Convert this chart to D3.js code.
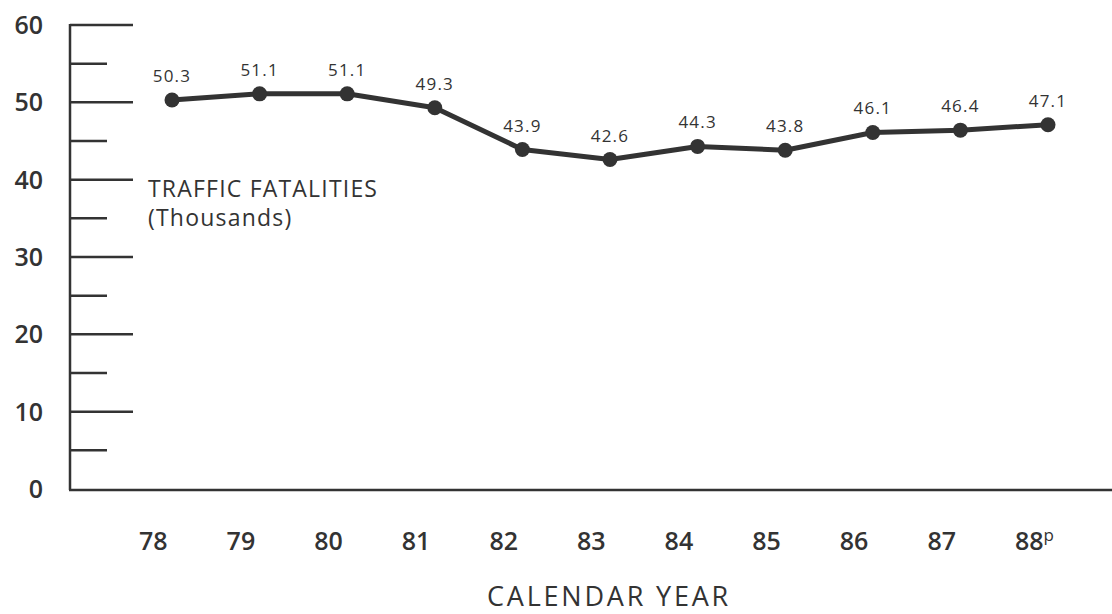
<!DOCTYPE html>
<html>
<head>
<meta charset="utf-8">
<script src="https://cdn.jsdelivr.net/npm/d3@7/dist/d3.min.js"></script>
<style>
  html, body { margin: 0; padding: 0; background: #fff; }
  svg { display: block; font-family: "Open Sans", "Noto Sans", sans-serif; }
</style>
</head>
<body>
<script>
// ---- data ----
const years = [78, 79, 80, 81, 82, 83, 84, 85, 86, 87, 88];
const yearLabels = ["78", "79", "80", "81", "82", "83", "84", "85", "86", "87", "88"];
const fatalities = [50.3, 51.1, 51.1, 49.3, 43.9, 42.6, 44.3, 43.8, 46.1, 46.4, 47.1];
const valueLabels = ["50.3", "51.1", "51.1", "49.3", "43.9", "42.6", "44.3", "43.8", "46.1", "46.4", "47.1"];
const majorTicks = [0, 10, 20, 30, 40, 50, 60];
const minorTicks = [5, 15, 25, 35, 45, 55];
const yTickLabels = ["0", "10", "20", "30", "40", "50", "60"];
const seriesTitle = ["TRAFFIC FATALITIES", "(Thousands)"];
const xTitle = "CALENDAR YEAR";
const provisionalMark = "p";

// ---- layout ----
const W = 1112, H = 614;
const ink = "#333";
const axisX = 70;

const x = d3.scaleLinear().domain([78, 88]).range([172, 1048]);
const y = d3.scaleLinear().domain([0, 60]).range([489, 25]);

const svg = d3.select("body").append("svg").attr("width", W).attr("height", H);

// y axis line
svg.append("line")
  .attr("x1", axisX).attr("x2", axisX)
  .attr("y1", y(60) - 1).attr("y2", y(0) + 1)
  .attr("stroke", ink).attr("stroke-width", 2.5);

// x axis baseline
svg.append("line")
  .attr("x1", axisX - 1).attr("x2", W)
  .attr("y1", y(0) + 1).attr("y2", y(0) + 1)
  .attr("stroke", ink).attr("stroke-width", 2.5);

// major ticks
svg.selectAll("line.major").data(majorTicks.filter(d => d !== 0)).join("line")
  .attr("class", "major")
  .attr("x1", axisX).attr("x2", axisX + 63)
  .attr("y1", d => y(d)).attr("y2", d => y(d))
  .attr("stroke", ink).attr("stroke-width", 2.5);

// minor ticks
svg.selectAll("line.minor").data(minorTicks).join("line")
  .attr("class", "minor")
  .attr("x1", axisX).attr("x2", axisX + 37)
  .attr("y1", d => y(d)).attr("y2", d => y(d))
  .attr("stroke", ink).attr("stroke-width", 2.5);

// y tick labels
svg.selectAll("text.ylab").data(majorTicks).join("text")
  .attr("class", "ylab")
  .attr("x", 43).attr("y", d => y(d))
  .attr("dy", "0.36em")
  .attr("text-anchor", "end")
  .attr("font-size", 25)
  .attr("font-weight", 600)
  .attr("fill", ink)
  .text((d, i) => yTickLabels[i]);

// x tick labels
const xl = svg.selectAll("text.xlab").data(years).join("text")
  .attr("class", "xlab")
  .attr("x", d => x(d) - 33).attr("y", 550)
  .attr("text-anchor", "start")
  .attr("font-size", 25)
  .attr("font-weight", 600)
  .attr("fill", ink)
  .text((d, i) => yearLabels[i]);
xl.filter((d, i) => i === years.length - 1)
  .append("tspan")
  .attr("font-size", 17)
  .attr("font-weight", 500)
  .attr("dy", -9)
  .text(provisionalMark);

// x axis title
svg.append("text")
  .attr("x", 609).attr("y", 606)
  .attr("text-anchor", "middle")
  .attr("font-size", 27)
  .attr("font-weight", 500)
  .attr("letter-spacing", 2.8)
  .attr("fill", ink)
  .text(xTitle);

// series title
svg.selectAll("text.stitle").data(seriesTitle).join("text")
  .attr("class", "stitle")
  .attr("x", 148).attr("y", (d, i) => 197 + i * 29)
  .attr("font-size", 23)
  .attr("font-weight", 500)
  .attr("letter-spacing", 1.2)
  .attr("fill", ink)
  .text(d => d);

// line
const lineGen = d3.line().x((d, i) => x(years[i])).y(d => y(d));
svg.append("path")
  .datum(fatalities)
  .attr("d", lineGen)
  .attr("fill", "none")
  .attr("stroke", ink)
  .attr("stroke-width", 5)
  .attr("stroke-linejoin", "round");

// points
svg.selectAll("circle.pt").data(fatalities).join("circle")
  .attr("class", "pt")
  .attr("cx", (d, i) => x(years[i]))
  .attr("cy", d => y(d))
  .attr("r", 7.5)
  .attr("fill", ink);

// value labels
svg.selectAll("text.vlab").data(fatalities).join("text")
  .attr("class", "vlab")
  .attr("x", (d, i) => x(years[i]))
  .attr("y", d => y(d) - 18)
  .attr("text-anchor", "middle")
  .attr("font-size", 17)
  .attr("letter-spacing", 1.2)
  .attr("fill", ink)
  .text((d, i) => valueLabels[i]);
</script>
</body>
</html>
